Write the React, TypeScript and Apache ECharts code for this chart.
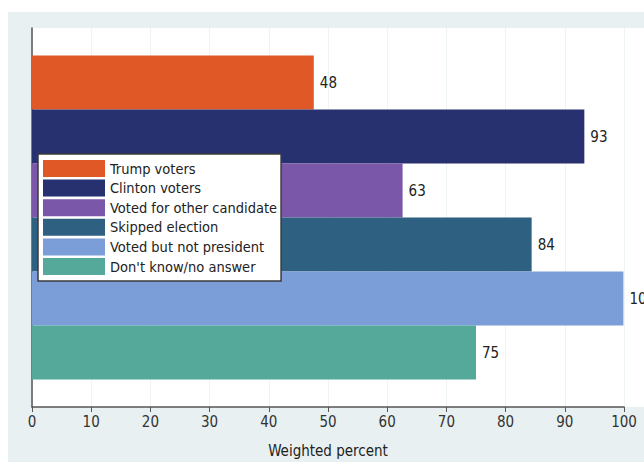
import React, { useEffect, useRef } from "react";
import * as echarts from "echarts";

const seriesNames = [
  "Trump voters",
  "Clinton voters",
  "Voted for other candidate",
  "Skipped election",
  "Voted but not president",
  "Don't know/no answer",
];
const seriesValues = [47.6, 93.3, 62.6, 84.4, 99.9, 75.0];
const seriesColors = ["#e05826", "#27316f", "#7b57a9", "#2e6081", "#7c9ed8", "#55a99b"];
const xTicks = [0, 10, 20, 30, 40, 50, 60, 70, 80, 90, 100];
const categories = ["All"];

const FONT = "'Liberation Sans Narrow', 'DejaVu Sans Condensed', 'Arial Narrow', sans-serif";

export default function App() {
  const ref = useRef<HTMLDivElement>(null);
  useEffect(() => {
    document.body.style.margin = "0";
    const chart = echarts.init(ref.current!, null, { renderer: "svg" });
    chart.setOption({
      animation: false,
      backgroundColor: "#ffffff",
      textStyle: { fontFamily: FONT },
      graphic: [
        {
          type: "rect",
          z: -10,
          silent: true,
          shape: { x: 8, y: 12, width: 636, height: 450 },
          style: { fill: "#e8f0f1" },
        },
        {
          type: "rect",
          z: -9,
          silent: true,
          shape: { x: 32, y: 28, width: 612, height: 379 },
          style: { fill: "#ffffff" },
        },
      ],
      grid: { left: 32, right: 20, top: 28, bottom: 59 },
      legend: {
        orient: "vertical",
        left: 38,
        top: 154,
        data: seriesNames,
        itemWidth: 62,
        itemHeight: 17,
        itemGap: 2.6,
        icon: "rect",
        padding: [6, 4, 6, 5],
        backgroundColor: "#ffffff",
        borderColor: "#3a3a3a",
        borderWidth: 1.5,
        borderRadius: 0,
        textStyle: { fontFamily: FONT, fontSize: 14.5, color: "#222", padding: [0, 0, 0, 0] },
      },
      xAxis: {
        type: "value",
        min: 0,
        max: 100,
        interval: 10,
        name: "Weighted percent",
        nameLocation: "middle",
        nameGap: 36,
        nameTextStyle: { fontFamily: FONT, fontSize: 15, color: "#222" },
        axisLine: { show: true, lineStyle: { color: "#555", width: 1.5 } },
        axisTick: { show: true, length: 5, lineStyle: { color: "#555" } },
        axisLabel: {
          fontFamily: FONT,
          fontSize: 15,
          color: "#333",
          margin: 7,
          formatter: (v: number) => (xTicks.includes(v) ? String(v) : ""),
        },
        splitLine: { show: true, lineStyle: { color: "#eef4f5", width: 1 } },
      },
      yAxis: {
        type: "category",
        data: categories,
        inverse: true,
        axisLine: { show: true, lineStyle: { color: "#555", width: 1.5 } },
        axisTick: { show: false },
        axisLabel: { show: false },
      },
      series: seriesNames.map((name, i) => ({
        name,
        type: "bar",
        data: [seriesValues[i]],
        barWidth: 54,
        barGap: "0%",
        itemStyle: { color: seriesColors[i] },
        label: {
          show: true,
          position: "right",
          distance: 6,
          fontFamily: FONT,
          fontSize: 15,
          color: "#222",
          formatter: (p: any) => String(Math.round(p.value)),
        },
      })),
    });
    return () => chart.dispose();
  }, []);
  return <div ref={ref} style={{ width: 644, height: 466 }} />;
}
